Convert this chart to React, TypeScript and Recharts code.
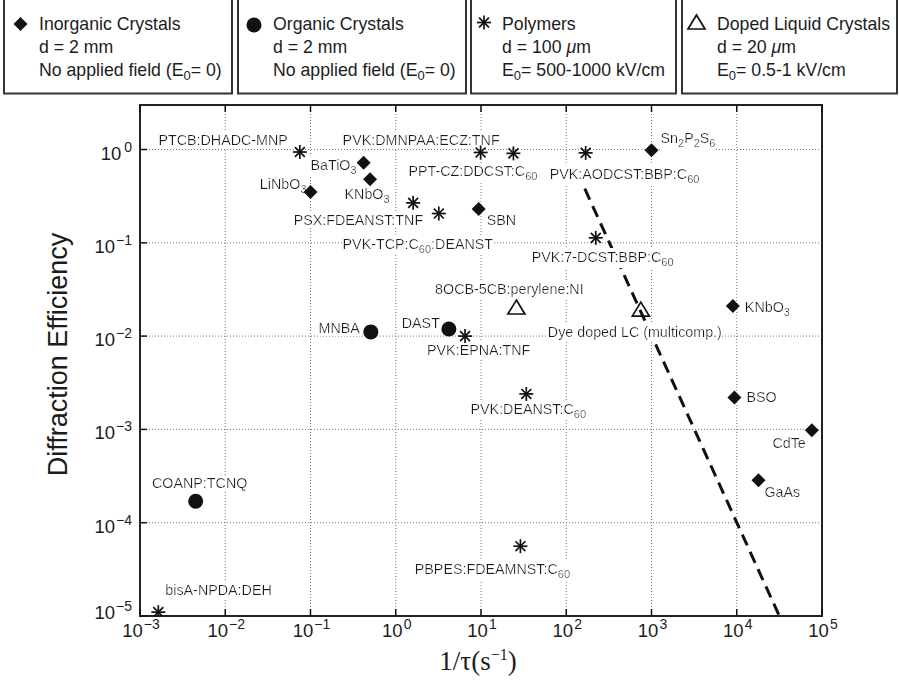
import React from "react";
import { ScatterChart, Scatter, XAxis, YAxis, CartesianGrid, ReferenceArea } from "recharts";

// ---------- data ----------
const X_TICKS = [1e-3, 1e-2, 1e-1, 1, 1e1, 1e2, 1e3, 1e4, 1e5];
const Y_TICKS = [1e-5, 1e-4, 1e-3, 1e-2, 1e-1, 1];
const X_DOMAIN = [1e-3, 1e5];
const Y_DOMAIN = [1e-5, 3];

const inorganicLabels = ["LiNbO_3", "BaTiO_3", "KNbO_3", "SBN", "Sn_2P_2S_6", "KNbO_3", "BSO", "CdTe", "GaAs"];
const inorganicX = [0.1, 0.42, 0.5, 9.4, 1000, 9000, 9400, 76000, 18000];
const inorganicY = [0.35, 0.72, 0.48, 0.23, 0.98, 0.021, 0.0022, 0.00098, 0.000285];

const organicLabels = ["MNBA", "DAST", "COANP:TCNQ"];
const organicX = [0.51, 4.2, 0.0045];
const organicY = [0.0111, 0.0119, 0.00017];

const polymerLabels = [
  "PTCB:DHADC-MNP",
  "PVK:DMNPAA:ECZ:TNF",
  "PPT-CZ:DDCST:C_{60}",
  "PVK:AODCST:BBP:C_{60}",
  "PSX:FDEANST:TNF",
  "PVK-TCP:C_{60}:DEANST",
  "PVK:7-DCST:BBP:C_{60}",
  "PVK:EPNA:TNF",
  "PVK:DEANST:C_{60}",
  "PBPES:FDEAMNST:C_{60}",
  "bisA-NPDA:DEH",
];
const polymerX = [0.075, 9.9, 24, 169, 1.6, 3.2, 222, 6.5, 34, 29, 0.00164];
const polymerY = [0.94, 0.93, 0.91, 0.92, 0.268, 0.206, 0.113, 0.01, 0.0024, 0.000056, 0.000011];

const lcLabels = ["8OCB-5CB:perylene:NI", "Dye doped LC (multicomp.)"];
const lcX = [26, 750];
const lcY = [0.02, 0.019];

const limitX = [165, 31600];
const limitY = [0.38, 1e-5];

const legendTitles = ["Inorganic Crystals", "Organic Crystals", "Polymers", "Doped Liquid Crystals"];
const legendThickness = ["d = 2 mm", "d = 2 mm", "d = 100 μm", "d = 20 μm"];
const legendField = ["No applied field (E_0= 0)", "No applied field (E_0= 0)", "E_0= 500-1000 kV/cm", "E_0= 0.5-1 kV/cm"];

// ---------- layout (label placement relative to marker: anchor, dx, dy) ----------
type Place = [string, number, number];
const inorganicPlace: Place[] = [
  ["end", -4, -3], ["end", -7, 7], ["middle", -3, 20], ["start", 8, 16], ["start", 9, -7],
  ["start", 12, 6], ["start", 12, 5], ["end", -6, 18], ["start", 6, 17],
];
const organicPlace: Place[] = [["end", -11, 1], ["end", -9, -1], ["middle", 4, -13]];
const polymerPlace: Place[] = [
  ["end", -12, -7], ["end", 19, -7], ["end", 24, 23], ["start", -36, 26], ["end", 10, 22],
  ["middle", -21, 35], ["start", -64, 24], ["start", -38, 19], ["middle", 2, 20],
  ["middle", -28, 28], ["start", 7, -17],
];
const lcPlace: Place[] = [["middle", -7, -14], ["middle", -6, 27]];

const legendBoxes = [
  { x: 4, w: 228, tx: 39, marker: "diamond", mx: 20.5, my: 24 },
  { x: 238, w: 228, tx: 273, marker: "circle", mx: 254, my: 25 },
  { x: 471, w: 205, tx: 502, marker: "star", mx: 484, my: 22.5 },
  { x: 682, w: 215, tx: 717, marker: "triangle", mx: 696.5, my: 23 },
];

const SANS = "'Liberation Sans', Arial, Helvetica, sans-serif";
const SERIF = "'Liberation Serif', 'Times New Roman', serif";
const INK = "#111";
const TEXT = "#1c1c1c";

const build = (labels: string[], xs: number[], ys: number[], place: Place[]) =>
  labels.map((l, i) => ({ label: l, x: xs[i], y: ys[i], place: place[i] }));

const inorganicData = build(inorganicLabels, inorganicX, inorganicY, inorganicPlace);
const organicData = build(organicLabels, organicX, organicY, organicPlace);
const polymerData = build(polymerLabels, polymerX, polymerY, polymerPlace);
const lcData = build(lcLabels, lcX, lcY, lcPlace);
const limitData = limitX.map((x, i) => ({ x, y: limitY[i] }));

// ---------- text helpers ----------
function plain(s: string, key: string, dy: number) {
  const parts = s.split("μ");
  const out: any[] = [];
  parts.forEach((p, i) => {
    if (i > 0) out.push(<tspan key={key + "m" + i} fontStyle="italic" dy={i === 1 ? dy : 0}>μ</tspan>);
    if (p) out.push(<tspan key={key + "p" + i} dy={i === 0 ? dy : 0}>{p}</tspan>);
  });
  return out;
}

function rich(s: string, subSize: number, shift: number) {
  const re = /_(\{([^}]*)\}|(.))/g;
  const out: any[] = [];
  let last = 0;
  let sub = false;
  let k = 0;
  let m: RegExpExecArray | null;
  while ((m = re.exec(s))) {
    const pre = s.slice(last, m.index);
    if (pre) {
      out.push(...plain(pre, "t" + k++, sub ? -shift : 0));
      sub = false;
    }
    const t = m[2] !== undefined ? m[2] : m[3];
    out.push(
      <tspan key={"s" + k++} dy={sub ? 0 : shift} fontSize={subSize}>
        {t}
      </tspan>
    );
    sub = true;
    last = re.lastIndex;
  }
  const rest = s.slice(last);
  if (rest) out.push(...plain(rest, "t" + k++, sub ? -shift : 0));
  return out;
}

const sup = (e: number) => (e < 0 ? "\u2212" + -e : String(e));

// ---------- markers ----------
function Marker({ kind, cx, cy }: { kind: string; cx: number; cy: number }) {
  if (kind === "diamond")
    return <path d={`M${cx},${cy - 7}L${cx + 7},${cy}L${cx},${cy + 7}L${cx - 7},${cy}Z`} fill={INK} />;
  if (kind === "circle") return <circle cx={cx} cy={cy} r={7.5} fill={INK} />;
  if (kind === "triangle")
    return (
      <path
        d={`M${cx},${cy - 8}L${cx + 8.5},${cy + 6}L${cx - 8.5},${cy + 6}Z`}
        fill="none"
        stroke={INK}
        strokeWidth={1.7}
      />
    );
  const r = 7;
  const d = r * 0.7071;
  return (
    <g stroke={INK} strokeWidth={1.7}>
      <line x1={cx - r} x2={cx + r} y1={cy} y2={cy} />
      <line x1={cx} x2={cx} y1={cy - r} y2={cy + r} />
      <line x1={cx - d} x2={cx + d} y1={cy - d} y2={cy + d} />
      <line x1={cx - d} x2={cx + d} y1={cy + d} y2={cy - d} />
    </g>
  );
}

const markerShape = (kind: string) => (props: any) => {
  const { cx, cy } = props;
  if (cx == null || cy == null) return <g />;
  return <Marker kind={kind} cx={cx} cy={cy} />;
};

const labelShape = (props: any) => {
  const { cx, cy, payload } = props;
  if (cx == null || cy == null || !payload) return <g />;
  const [anchor, dx, dy] = payload.place as Place;
  return (
    <text
      x={cx + dx}
      y={cy + dy}
      textAnchor={anchor as any}
      fontFamily={SANS}
      fontSize={14.3}
      fill={TEXT}
      filter="url(#lblbg)"
    >
      {rich(payload.label, 11, 4)}
    </text>
  );
};

const emptyShape = () => <g />;

// ---------- axis ticks ----------
const XTick = (p: any) => {
  const { x, y, payload } = p;
  const e = Math.round(Math.log10(payload.value));
  return (
    <g>
      <line x1={x} x2={x} y1={y} y2={y - 7} stroke={INK} strokeWidth={1.5} />
      <text x={x + 1} y={y + 21} textAnchor="middle" fontFamily={SANS} fontSize={18.5} fill={TEXT}>
        10
        <tspan dy={-8} dx={1} fontSize={14}>
          {sup(e)}
        </tspan>
      </text>
    </g>
  );
};

const TopTick = (p: any) => {
  const { x, y } = p;
  return <line x1={x} x2={x} y1={y} y2={y + 7} stroke={INK} strokeWidth={1.5} />;
};

const YTick = (p: any) => {
  const { x, y, payload } = p;
  const e = Math.round(Math.log10(payload.value));
  const base = e === -5 ? 3 : 10;
  return (
    <g>
      <line x1={x} x2={x + 7} y1={y} y2={y} stroke={INK} strokeWidth={1.5} />
      <text x={x - 8} y={y + base} textAnchor="end" fontFamily={SANS} fontSize={18.5} fill={TEXT}>
        10
        <tspan dy={-8} dx={e === 0 ? 3 : 1} fontSize={14}>
          {sup(e)}
        </tspan>
      </text>
    </g>
  );
};

const XTitle = (p: any) => {
  const vb = p.viewBox || { x: 140, y: 616, width: 682, height: 50 };
  return (
    <text x={vb.x + vb.width / 2 - 3} y={vb.y + 54} textAnchor="middle" fontFamily={SERIF} fontSize={27} fill={TEXT}>
      1/τ(s
      <tspan dy={-10} fontSize={16}>
        −1
      </tspan>
      <tspan dy={10}>)</tspan>
    </text>
  );
};

const YTitle = (p: any) => {
  const vb = p.viewBox || { x: 80, y: 105, width: 60, height: 511 };
  const cx = vb.x - 13;
  const cy = vb.y + vb.height / 2 - 6;
  return (
    <text
      x={cx}
      y={cy}
      transform={`rotate(-90 ${cx} ${cy})`}
      textAnchor="middle"
      fontFamily={SANS}
      fontSize={27}
      fill={TEXT}
    >
      Diffraction Efficiency
    </text>
  );
};

// ---------- legend ----------
function Legend() {
  return (
    <svg width={899} height={100} style={{ position: "absolute", left: 0, top: 0 }}>
      {legendBoxes.map((b, i) => (
        <g key={i}>
          <rect x={b.x} y={-5} width={b.w} height={98.5} fill="#fff" stroke="#333" strokeWidth={2} />
          <Marker kind={b.marker} cx={b.mx} cy={b.my} />
          <text fontFamily={SANS} fontSize={17.7} fill={TEXT}>
            <tspan x={b.tx} y={29.5}>{legendTitles[i]}</tspan>
          </text>
          <text x={b.tx} y={53} fontFamily={SANS} fontSize={17.7} fill={TEXT}>
            {rich(legendThickness[i], 13, 4)}
          </text>
          <text x={b.tx} y={76} fontFamily={SANS} fontSize={17.7} fill={TEXT}>
            {rich(legendField[i], 13, 4)}
          </text>
        </g>
      ))}
    </svg>
  );
}

export default function App() {
  return (
    <div style={{ position: "absolute", left: 0, top: 0, width: 899, height: 685, background: "#fff" }}>
      <svg width={0} height={0} style={{ position: "absolute" }}>
        <defs>
          <filter id="lblbg" x="0" y="0" width="1" height="1">
            <feFlood floodColor="#ffffff" />
            <feComposite in="SourceGraphic" operator="over" />
          </filter>
        </defs>
      </svg>
      <ScatterChart width={899} height={685} margin={{ top: 95, right: 77, bottom: 19, left: 80 }}>
        <CartesianGrid stroke="#777" strokeDasharray="1 2" strokeWidth={1} />
        <XAxis
          dataKey="x"
          type="number"
          scale="log"
          domain={X_DOMAIN}
          allowDataOverflow
          ticks={X_TICKS}
          height={50}
          axisLine={false}
          tickLine={false}
          tickSize={0}
          tickMargin={0}
          tick={XTick}
          interval={0}
          label={{ content: XTitle }}
        />
        <XAxis
          xAxisId="top"
          orientation="top"
          dataKey="x"
          type="number"
          scale="log"
          domain={X_DOMAIN}
          allowDataOverflow
          ticks={X_TICKS}
          height={10}
          axisLine={false}
          tickLine={false}
          tickSize={0}
          tickMargin={0}
          tick={TopTick}
          interval={0}
        />
        <YAxis
          dataKey="y"
          type="number"
          scale="log"
          domain={Y_DOMAIN}
          allowDataOverflow
          ticks={Y_TICKS}
          width={60}
          axisLine={false}
          tickLine={false}
          tickSize={0}
          tickMargin={0}
          tick={YTick}
          interval={0}
          label={{ content: YTitle }}
        />
        <Scatter
          xAxisId="top"
          data={limitData}
          line={{ stroke: INK, strokeWidth: 3, strokeDasharray: "12 7" }}
          shape={emptyShape}
          isAnimationActive={false}
        />
        <Scatter data={lcData} shape={labelShape} isAnimationActive={false} />
        <Scatter data={polymerData} shape={labelShape} isAnimationActive={false} />
        <Scatter data={organicData} shape={labelShape} isAnimationActive={false} />
        <Scatter data={inorganicData} shape={labelShape} isAnimationActive={false} />
        <Scatter data={lcData} shape={markerShape("triangle")} isAnimationActive={false} />
        <Scatter data={polymerData} shape={markerShape("star")} isAnimationActive={false} />
        <Scatter data={organicData} shape={markerShape("circle")} isAnimationActive={false} />
        <Scatter data={inorganicData} shape={markerShape("diamond")} isAnimationActive={false} />
        <ReferenceArea
          x1={X_DOMAIN[0]}
          x2={X_DOMAIN[1]}
          y1={Y_DOMAIN[0]}
          y2={Y_DOMAIN[1]}
          fill="none"
          stroke="#222"
          strokeWidth={2}
          ifOverflow="visible"
        />
      </ScatterChart>
      <Legend />
    </div>
  );
}
